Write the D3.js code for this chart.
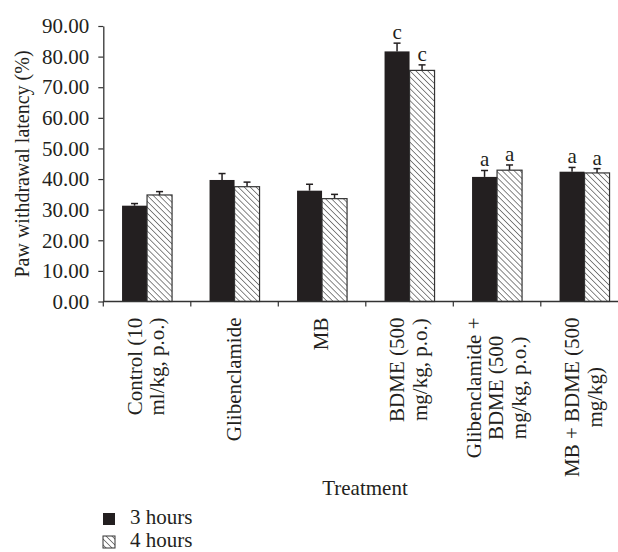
<!doctype html>
<html lang="en">
<head>
  <meta charset="utf-8">
  <title>Paw withdrawal latency</title>
  <script src="https://d3js.org/d3.v7.min.js"></script>
  <style>
    body { margin: 0; background: #fff; }
    text { font-family: "Liberation Serif", "DejaVu Serif", serif; fill: #231f20; }
  </style>
</head>
<body>
  <div id='my_chart'></div>
<script>
  // data
  var categories = [
    ['Control (10', 'ml/kg, p.o.)'],
    ['Glibenclamide'],
    ['MB'],
    ['BDME (500', 'mg/kg, p.o.)'],
    ['Glibenclamide +', 'BDME (500', 'mg/kg, p.o.)'],
    ['MB + BDME (500', 'mg/kg)']
  ];
  var series = ['3 hours', '4 hours'];
  var values_3h = [31.3, 39.7, 36.2, 81.7, 40.7, 42.4];
  var values_4h = [34.8, 37.5, 33.6, 75.5, 42.9, 42.0];
  var errors_3h = [0.7, 2.1, 2.1, 2.7, 2.1, 1.4];
  var errors_4h = [1.1, 1.5, 1.4, 1.8, 1.7, 1.4];
  var marks_3h = ['', '', '', 'c', 'a', 'a'];
  var marks_4h = ['', '', '', 'c', 'a', 'a'];
  var y_ticks = [0, 10, 20, 30, 40, 50, 60, 70, 80, 90];

  var width = 618;
  var height = 552;
  var font_size = 21;

  var svg = d3.select('#my_chart').append('svg')
    .attr('width', width)
    .attr('height', height);

  // diagonal hatch for the 4 hour bars
  var hs = 4.2;
  var pat = svg.append('defs').append('pattern')
    .attr('id', 'hatch')
    .attr('patternUnits', 'userSpaceOnUse')
    .attr('width', hs)
    .attr('height', hs)
    .attr('patternTransform', 'rotate(45)');
  pat.append('rect').attr('width', hs).attr('height', hs).attr('fill', '#fff');
  pat.append('line')
    .attr('x1', 0).attr('y1', hs / 2).attr('x2', hs).attr('y2', hs / 2)
    .attr('stroke', '#555').attr('stroke-width', 0.7);

  var keys = d3.range(categories.length);
  var x = d3.scaleBand()
    .domain(keys)
    .range([103.3, 628.3]);
  var pair = 50;
  var x_inner = d3.scaleBand()
    .domain(series)
    .range([x.bandwidth() / 2 - pair / 2, x.bandwidth() / 2 + pair / 2]);
  var y = d3.scaleLinear()
    .domain([0, 90])
    .range([301.5, 26]);

  var rows = keys.map(i => [
    {s: series[0], v: values_3h[i], e: errors_3h[i], m: marks_3h[i]},
    {s: series[1], v: values_4h[i], e: errors_4h[i], m: marks_4h[i]}
  ]);

  var groups = svg.append('g').selectAll('g')
    .data(rows)
    .enter().append('g')
      .attr('transform', (d, i) => 'translate(' + x(i) + ',0)');

  var bars = groups.selectAll('g')
    .data(d => d)
    .enter().append('g');

  // error bars
  bars.append('line')
    .attr('x1', d => x_inner(d.s) + x_inner.bandwidth() / 2)
    .attr('x2', d => x_inner(d.s) + x_inner.bandwidth() / 2)
    .attr('y1', d => y(d.v))
    .attr('y2', d => y(d.v + d.e))
    .attr('stroke', '#231f20').attr('stroke-width', 1.5);
  bars.append('line')
    .attr('x1', d => x_inner(d.s) + x_inner.bandwidth() / 2 - 3.5)
    .attr('x2', d => x_inner(d.s) + x_inner.bandwidth() / 2 + 3.5)
    .attr('y1', d => y(d.v + d.e))
    .attr('y2', d => y(d.v + d.e))
    .attr('stroke', '#231f20').attr('stroke-width', 1.5);

  bars.append('rect')
    .attr('x', d => x_inner(d.s))
    .attr('width', x_inner.bandwidth())
    .attr('y', d => y(d.v))
    .attr('height', d => y(0) - y(d.v))
    .attr('fill', d => d.s == series[0] ? '#231f20' : 'url(#hatch)')
    .attr('stroke', d => d.s == series[0] ? 'none' : '#333')
    .attr('stroke-width', 1.2);

  bars.append('text')
    .attr('x', d => x_inner(d.s) + x_inner.bandwidth() / 2)
    .attr('y', d => y(d.v + d.e) - 4)
    .attr('text-anchor', 'middle')
    .style('font-size', font_size + 'px')
    .text(d => d.m);

  // y axis
  var y_axis = svg.append('g')
    .attr('transform', 'translate(' + x.range()[0] + ',0)')
    .call(d3.axisLeft(y).tickValues(y_ticks).tickFormat(d3.format('.2f'))
      .tickSize(5).tickSizeOuter(0).tickPadding(9));
  y_axis.select('.domain').attr('stroke', '#333').attr('stroke-width', 1.3);
  y_axis.selectAll('.tick line').attr('stroke', '#333').attr('stroke-width', 1.2);
  y_axis.selectAll('.tick text')
    .style('font-family', '"Liberation Serif", serif')
    .style('font-size', font_size + 'px')
    .attr('fill', '#231f20');

  // x axis: line plus ticks at category boundaries
  var x_axis = svg.append('g');
  x_axis.append('line')
    .attr('x1', x.range()[0]).attr('x2', x.range()[1])
    .attr('y1', y(0)).attr('y2', y(0))
    .attr('stroke', '#333').attr('stroke-width', 1.3);
  x_axis.selectAll('.tk')
    .data(keys)
    .enter().append('line')
      .attr('x1', d => x(d)).attr('x2', d => x(d))
      .attr('y1', y(0)).attr('y2', y(0) + 5)
      .attr('stroke', '#333').attr('stroke-width', 1.2);

  // rotated category labels, lines centered, top aligned
  var line_gap = 22.5;
  var label_top = 317.5;
  keys.forEach(function(i) {
    var lines = categories[i];
    var t = svg.append('text')
      .attr('text-anchor', 'middle')
      .style('font-size', font_size + 'px');
    lines.forEach(function(l, j) {
      t.append('tspan')
        .attr('x', 0)
        .attr('dy', j == 0 ? 0 : line_gap)
        .text(l);
    });
    var max_w = d3.max(t.selectAll('tspan').nodes(), n => n.getComputedTextLength());
    var cx = x(i) + x.bandwidth() / 2 + 6 - (lines.length - 1) * line_gap / 2;
    t.attr('transform', 'translate(' + cx + ',' + (label_top + max_w / 2) + ') rotate(-90)');
  });

  // axis titles
  svg.append('text')
    .attr('transform', 'translate(29,164) rotate(-90)')
    .attr('text-anchor', 'middle')
    .style('font-size', '20px')
    .text('Paw withdrawal latency (%)');
  svg.append('text')
    .attr('x', 365).attr('y', 495)
    .attr('text-anchor', 'middle')
    .style('font-size', font_size + 'px')
    .text('Treatment');

  // legend
  var legend = svg.append('g').selectAll('g')
    .data(series)
    .enter().append('g')
      .attr('transform', (d, i) => 'translate(103,' + (513 + i * 23) + ')');
  legend.append('rect')
    .attr('width', 12).attr('height', 12)
    .attr('fill', (d, i) => i == 0 ? '#231f20' : 'url(#hatch)')
    .attr('stroke', (d, i) => i == 0 ? 'none' : '#333')
    .attr('stroke-width', 1);
  legend.append('text')
    .attr('x', 27).attr('y', 11)
    .style('font-size', font_size + 'px')
    .text(d => d);
</script>
</body>
</html>
